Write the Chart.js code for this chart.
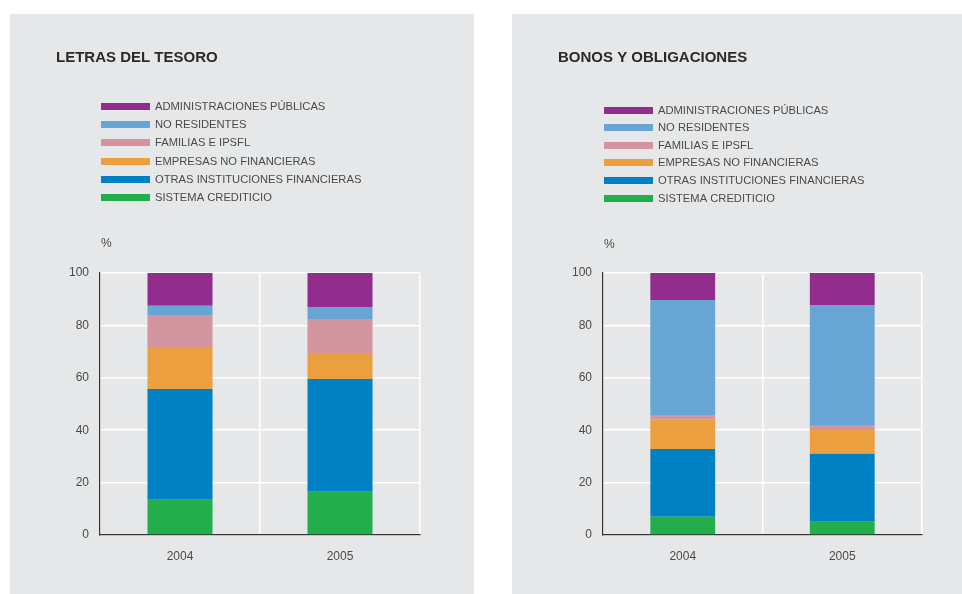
<!DOCTYPE html>
<html>
<head>
<meta charset="utf-8">
<script src="https://cdn.jsdelivr.net/npm/chart.js@4/dist/chart.umd.min.js"></script>
<style>
  html, body { margin: 0; padding: 0; background: #ffffff; width: 962px; height: 594px; overflow: hidden; }
  .panel { position: absolute; top: 14px; width: 464px; height: 580px; background: #e6e7e8; }
  #p1 { left: 10px; }
  #p2 { left: 512px; }
  canvas { display: block; }
</style>
</head>
<body>
<div class="panel" id="p1"><canvas id="c1" width="464" height="580"></canvas></div>
<div class="panel" id="p2"><canvas id="c2" width="464" height="580"></canvas></div>
<script>
// ---- Data ----
const categories = ['2004', '2005'];
const seriesNames = [
  'SISTEMA CREDITICIO',
  'OTRAS INSTITUCIONES FINANCIERAS',
  'EMPRESAS NO FINANCIERAS',
  'FAMILIAS E IPSFL',
  'NO RESIDENTES',
  'ADMINISTRACIONES PÚBLICAS'
];
const seriesColors = ['#24ae4b', '#0081c3', '#ec9f3e', '#d295a0', '#67a5d4', '#922d8d'];
const yTicks = [0, 20, 40, 60, 80, 100];

// Letras del Tesoro (%)
const letrasSistema     = [13.5, 16.5];
const letrasOtras       = [42.2, 43.0];
const letrasEmpresas    = [16.1, 10.0];
const letrasFamilias    = [12.2, 12.9];
const letrasNoResid     = [3.5, 4.6];
const letrasAdmin       = [12.5, 13.0];

// Bonos y obligaciones (%)
const bonosSistema      = [7.0, 5.1];
const bonosOtras        = [25.8, 25.9];
const bonosEmpresas     = [11.2, 9.1];
const bonosFamilias     = [1.8, 1.9];
const bonosNoResid      = [43.9, 45.8];
const bonosAdmin        = [10.3, 12.2];

Chart.defaults.font.family = "'Liberation Sans', Arial, Helvetica, sans-serif";
Chart.defaults.animation = false;

const decorPlugin = {
  id: 'panelDecor',
  afterDraw(chart, args, opts) {
    const ctx = chart.ctx;
    ctx.save();
    // Title
    ctx.fillStyle = '#2a2a2a';
    ctx.font = "bold 15px 'Liberation Sans', Arial, sans-serif";
    ctx.textBaseline = 'middle';
    ctx.textAlign = 'left';
    ctx.fillText(opts.title, opts.titleX, opts.titleY);
    // Legend (reverse order: top of stack first)
    ctx.font = "11.2px 'Liberation Sans', Arial, sans-serif";
    const ds = chart.data.datasets;
    let k = 0;
    for (let i = ds.length - 1; i >= 0; i--) {
      const y = opts.legendTop + k * opts.rowGap;
      ctx.fillStyle = ds[i].backgroundColor;
      ctx.fillRect(opts.boxX, Math.round(y - 3.5), 49, 7);
      ctx.fillStyle = '#4a4a4a';
      ctx.fillText(ds[i].label, opts.boxX + 54, y + 0.5);
      k++;
    }
    // % unit label
    ctx.font = "12px 'Liberation Sans', Arial, sans-serif";
    ctx.fillStyle = '#4a4a4a';
    ctx.fillText('%', opts.boxX, opts.unitY);
    ctx.restore();
  }
};

function buildChart(canvasId, seriesArrays, decor) {
  const datasets = seriesArrays.map((arr, i) => ({
    label: seriesNames[i],
    data: arr,
    backgroundColor: seriesColors[i],
    borderWidth: 0,
    categoryPercentage: 0.8,
    barPercentage: 0.508
  }));
  return new Chart(document.getElementById(canvasId), {
    type: 'bar',
    data: { labels: categories, datasets },
    plugins: [decorPlugin],
    options: {
      responsive: false,
      animation: false,
      layout: { padding: { left: 0, right: 54, top: 259, bottom: 19 } },
      plugins: {
        legend: { display: false },
        title: { display: false },
        tooltip: { enabled: false },
        panelDecor: decor
      },
      scales: {
        x: {
          stacked: true,
          offset: true,
          grid: { display: true, color: '#ffffff', lineWidth: 1.5, drawTicks: false, offset: true },
          border: { display: true, color: '#333333', width: 1.2 },
          ticks: { color: '#4a4a4a', font: { size: 12 }, padding: 14 },
          afterFit(scale) { scale.height = 40; }
        },
        y: {
          stacked: true,
          min: 0,
          max: 100,
          afterBuildTicks(scale) { scale.ticks = yTicks.map(v => ({ value: v })); },
          grid: { color: '#ffffff', lineWidth: 1.5, drawTicks: false },
          border: { display: true, color: '#333333', width: 1.2 },
          ticks: { color: '#4a4a4a', font: { size: 12 }, padding: 11 },
          afterFit(scale) { scale.width = decor.axisW; }
        }
      }
    }
  });
}

buildChart('c1',
  [letrasSistema, letrasOtras, letrasEmpresas, letrasFamilias, letrasNoResid, letrasAdmin],
  { title: 'LETRAS DEL TESORO', titleX: 46, titleY: 44, boxX: 91, legendTop: 92.5, rowGap: 18.2, unitY: 230, axisW: 90 });

buildChart('c2',
  [bonosSistema, bonosOtras, bonosEmpresas, bonosFamilias, bonosNoResid, bonosAdmin],
  { title: 'BONOS Y OBLIGACIONES', titleX: 46, titleY: 44, boxX: 92, legendTop: 96, rowGap: 17.6, unitY: 231, axisW: 91 });
</script>
</body>
</html>
